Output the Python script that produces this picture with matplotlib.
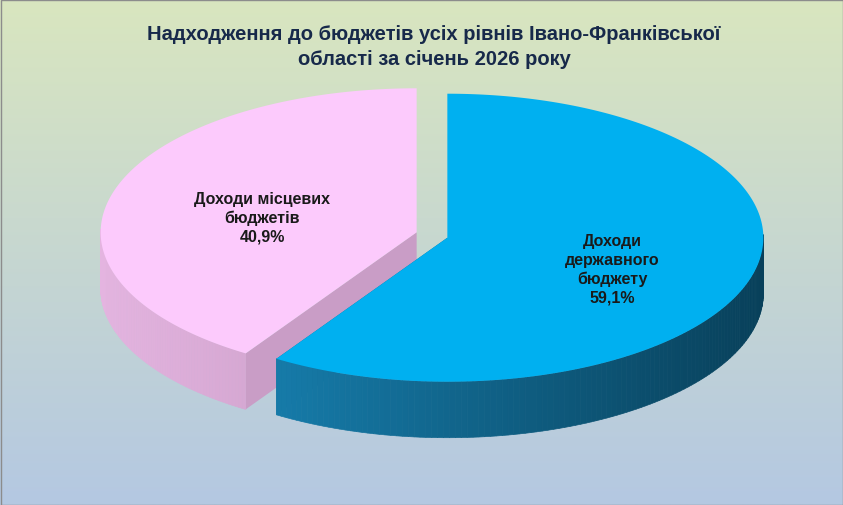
import numpy as np
import matplotlib
matplotlib.use("Agg")
import matplotlib.pyplot as plt
from matplotlib.patches import Polygon, Rectangle
from matplotlib.colors import to_rgb

categories = ["Доходи\nдержавного\nбюджету", "Доходи місцевих\nбюджетів"]
values = [59.1, 40.9]
value_labels = ["59,1%", "40,9%"]
title = "Надходження до бюджетів усіх рівнів Івано-Франківської\nобласті за січень 2026 року"

top_colors = ["#00b0f0", "#fccafc"]
wall_light = ["#1a8cc0", "#e4b4e0"]
wall_dark = ["#08405a", "#a880a6"]

fig = plt.figure(figsize=(8.43, 5.06), dpi=100)
ax = fig.add_axes([0, 0, 1, 1])
ax.set_xlim(0, 843); ax.set_ylim(506, 0); ax.axis("off")

g = np.linspace(0, 1, 256)[:, None]
c1, c2 = np.array(to_rgb("#d9e6bf")), np.array(to_rgb("#b4c8e2"))
img = c1 * (1 - g[..., None]) + c2 * g[..., None]
img = np.repeat(img, 2, axis=1)
ax.imshow(img, extent=[0, 843, 506, 0], aspect="auto", zorder=0)
ax.add_patch(Rectangle((0.5, 0.5), 842, 505, fill=False, ec="#8c8c8c", lw=1, zorder=1))

cx, cy, rx, ry, depth, expl = 432, 236, 316, 144, 56, 16
fracs = np.array(values) / sum(values)
start = 90.0
slices = []
for i, f in enumerate(fracs):
    a0 = start; a1 = start - f * 360
    mid = np.radians((a0 + a1) / 2)
    ox, oy = expl * np.cos(mid), -expl * 0.6 * np.sin(mid)
    slices.append((i, a1, a0, cx + ox, cy + oy))
    start = a1

def pt(x0, y0, th, dy=0):
    return (x0 + rx * np.cos(np.radians(th)), y0 - ry * np.sin(np.radians(th)) + dy)

def mix(a, b, t):
    a, b = np.array(to_rgb(a)), np.array(to_rgb(b))
    return a * (1 - t) + b * t

z = 2
for i, a1, a0, x0, y0 in [slices[1], slices[0]]:
    for th in (a0, a1):
        p = pt(x0, y0, th)
        quad = [(x0, y0), p, (p[0], p[1] + depth), (x0, y0 + depth)]
        ax.add_patch(Polygon(quad, closed=True, fc=mix(wall_light[i], wall_dark[i], 0.45), ec="none", zorder=z))
    ths = np.linspace(a1, a0, 200)
    for k in range(len(ths) - 1):
        ta, tb = ths[k], ths[k + 1]
        if np.sin(np.radians((ta + tb) / 2)) > 0.02:
            continue
        pa, pb = pt(x0, y0, ta), pt(x0, y0, tb)
        t = (np.cos(np.radians((ta + tb) / 2)) + 1) / 2
        col = mix(wall_light[i], wall_dark[i], t)
        ax.add_patch(Polygon([pa, pb, (pb[0], pb[1] + depth), (pa[0], pa[1] + depth)],
                             closed=True, fc=col, ec=col, lw=0.5, zorder=z))
    arc = [pt(x0, y0, t) for t in np.linspace(a0, a1, 200)]
    ax.add_patch(Polygon([(x0, y0)] + arc, closed=True, fc=top_colors[i], ec="none", zorder=z + 1))
    z += 2

fp = dict(family="Liberation Sans", fontweight="bold", color="#1a1a1a", fontsize=11.5, ha="center", va="center", linespacing=1.3)
ax.text(612, 270, categories[0] + "\n" + value_labels[0], zorder=10, **fp)
ax.text(262, 218, categories[1] + "\n" + value_labels[1], zorder=10, **fp)
ax.text(434, 47, title, family="Liberation Sans", fontweight="bold", color="#17294a", fontsize=14.5,
        ha="center", va="center", linespacing=1.4, zorder=10)

fig.savefig("out.png", dpi=100)
